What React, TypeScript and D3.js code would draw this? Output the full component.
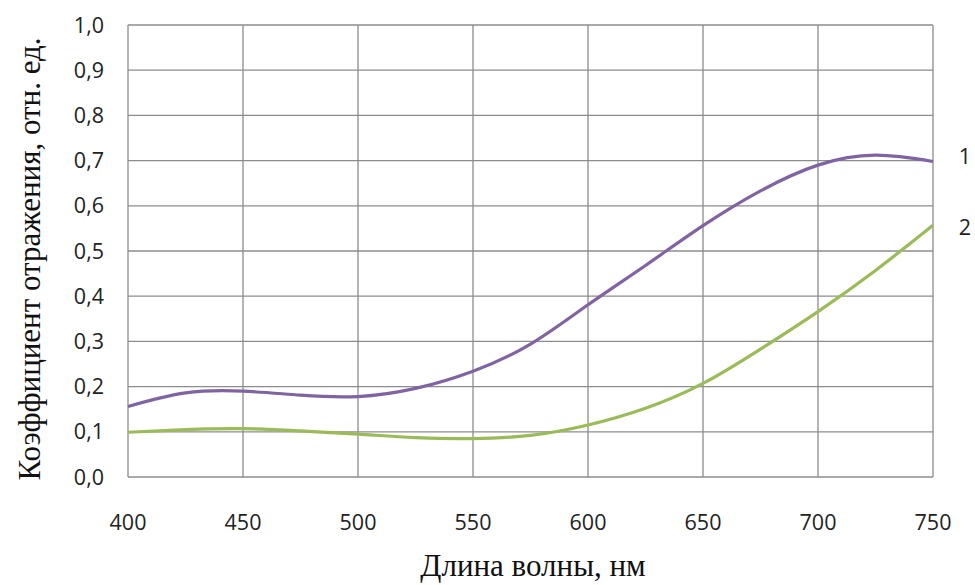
import React from "react";
import * as d3 from "d3";

// Wavelength samples, nm
const wavelengths = [400, 425, 450, 475, 500, 525, 550, 575, 600, 625, 650, 675, 700, 725, 750];
// Curve 1 reflectance
const series1 = [0.156, 0.186, 0.19, 0.181, 0.178, 0.196, 0.234, 0.294, 0.381, 0.468, 0.556, 0.633, 0.69, 0.712, 0.698];
// Curve 2 reflectance
const series2 = [0.099, 0.105, 0.107, 0.102, 0.095, 0.087, 0.085, 0.092, 0.115, 0.152, 0.207, 0.283, 0.366, 0.457, 0.557];

const xTicks = [400, 450, 500, 550, 600, 650, 700, 750];
const yTicks = [0, 0.1, 0.2, 0.3, 0.4, 0.5, 0.6, 0.7, 0.8, 0.9, 1.0];
const seriesLabels = ["1", "2"];

const W = 975;
const H = 585;
const left = 128;
const right = 933;
const top = 25;
const bottom = 477;

export default function App() {
  const x = d3.scaleLinear().domain([400, 750]).range([left, right]);
  const y = d3.scaleLinear().domain([0, 1]).range([bottom, top]);
  const line = d3
    .line<number>()
    .x((_, i) => x(wavelengths[i]))
    .y((d) => y(d))
    .curve(d3.curveNatural);

  const fmt = (v: number) => v.toFixed(1).replace(".", ",");
  const colors = ["#8064A2", "#9BBB59"];
  const series = [series1, series2];
  const tickFont = "'Open Sans', 'Noto Sans', sans-serif";
  const titleFont = "'Liberation Serif', 'DejaVu Serif', serif";

  return (
    <svg
      width={W}
      height={H}
      style={{ position: "absolute", left: 0, top: 0, background: "#fff" }}
    >
      <rect x={0} y={0} width={W} height={H} fill="#fff" />
      {yTicks.map((t) => (
        <line key={"gy" + t} x1={left} x2={right} y1={y(t)} y2={y(t)} stroke="#8c8c8c" strokeWidth={1.3} />
      ))}
      {xTicks.map((t) => (
        <line key={"gx" + t} x1={x(t)} x2={x(t)} y1={top} y2={bottom} stroke="#8c8c8c" strokeWidth={1.3} />
      ))}
      {series.map((s, i) => (
        <path key={"s" + i} d={line(s) || ""} fill="none" stroke={colors[i]} strokeWidth={3.2} />
      ))}
      {yTicks.map((t) => (
        <text
          key={"ty" + t}
          x={104}
          y={y(t)}
          dy="0.35em"
          textAnchor="end"
          fontFamily={tickFont}
          fontSize={21.5}
          fill="#222"
        >
          {fmt(t)}
        </text>
      ))}
      {xTicks.map((t) => (
        <text
          key={"tx" + t}
          x={x(t)}
          y={522}
          dy="0.35em"
          textAnchor="middle"
          fontFamily={tickFont}
          fontSize={21.5}
          fill="#222"
        >
          {t}
        </text>
      ))}
      {series.map((s, i) => (
        <text
          key={"lab" + i}
          x={right + 32}
          y={y(s[s.length - 1]) - (i === 0 ? 5 : -2)}
          dy="0.35em"
          textAnchor="middle"
          fontFamily={tickFont}
          fontSize={21.5}
          fill="#222"
        >
          {seriesLabels[i]}
        </text>
      ))}
      <text
        x={533}
        y={576}
        textAnchor="middle"
        fontFamily={titleFont}
        fontSize={31}
        fill="#111"
      >
        Длина волны, нм
      </text>
      <text
        transform={`translate(40, ${(top + bottom) / 2 + 8}) rotate(-90)`}
        textAnchor="middle"
        fontFamily={titleFont}
        fontSize={31}
        fill="#111"
      >
        Коэффициент отражения, отн. ед.
      </text>
    </svg>
  );
}
